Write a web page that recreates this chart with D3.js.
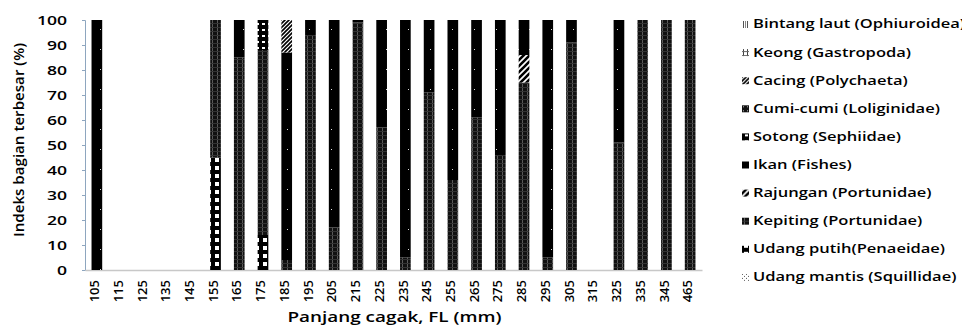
<!DOCTYPE html>
<html>
<head>
<meta charset="utf-8">
<script src="https://d3js.org/d3.v7.min.js"></script>
<style>
  body { margin: 0; background: #fff; }
  text { font-family: "Open Sans", sans-serif; fill: #000; font-weight: 600; }
</style>
</head>
<body>
<svg id="chart" width="962" height="327"></svg>
<script>
// category labels (fork length, mm)
const categories = ['105','115','125','135','145','155','165','175','185','195','205','215','225',
  '235','245','255','265','275','285','295','305','315','325','335','345','465'];

// series, bottom of stack first (values in %)
const udangMantis = [0,0,0,0,0,0,0,0,0,0,0,0,0,0,0,0,0,0,0,0,0,0,0,0,0,0];
const udangPutih  = [0,0,0,0,0,45,0,14,0,0,0,0,0,0,0,0,0,0,0,0,0,0,0,0,0,0];
const kepiting    = [0,0,0,0,0,55,85,74,4,94,17,99,57,5,71,36,61,46,75,5,91,0,51,100,100,100];
const rajungan    = [0,0,0,0,0,0,0,0,0,0,0,0,0,0,0,0,0,0,11,0,0,0,0,0,0,0];
const ikan        = [100,0,0,0,0,0,15,0,83,6,83,1,43,95,29,64,39,54,14,95,9,0,49,0,0,0];
const sotong      = [0,0,0,0,0,0,0,12,0,0,0,0,0,0,0,0,0,0,0,0,0,0,0,0,0,0];
const cumiCumi    = [0,0,0,0,0,0,0,0,0,0,0,0,0,0,0,0,0,0,0,0,0,0,0,0,0,0];
const cacing      = [0,0,0,0,0,0,0,0,13,0,0,0,0,0,0,0,0,0,0,0,0,0,0,0,0,0];
const keong       = [0,0,0,0,0,0,0,0,0,0,0,0,0,0,0,0,0,0,0,0,0,0,0,0,0,0];
const bintangLaut = [0,0,0,0,0,0,0,0,0,0,0,0,0,0,0,0,0,0,0,0,0,0,0,0,0,0];

const yTicks = [0,10,20,30,40,50,60,70,80,90,100];

const series = [
  { key: 'mantis',  name: 'Udang mantis (Squillidae)', values: udangMantis },
  { key: 'putih',   name: 'Udang putih(Penaeidae)',    values: udangPutih },
  { key: 'kepiting',name: 'Kepiting (Portunidae)',     values: kepiting },
  { key: 'rajungan',name: 'Rajungan (Portunidae)',     values: rajungan },
  { key: 'ikan',    name: 'Ikan (Fishes)',             values: ikan },
  { key: 'sotong',  name: 'Sotong (Sephiidae)',        values: sotong },
  { key: 'cumi',    name: 'Cumi-cumi (Loliginidae)',   values: cumiCumi },
  { key: 'cacing',  name: 'Cacing (Polychaeta)',       values: cacing },
  { key: 'keong',   name: 'Keong (Gastropoda)',        values: keong },
  { key: 'bintang', name: 'Bintang laut (Ophiuroidea)',values: bintangLaut },
];

const svg = d3.select('#chart');
const margin = { top: 20, left: 85, right: 260, bottom: 57 };
const width = 962 - margin.left - margin.right;
const height = 327 - margin.top - margin.bottom;

// the original's lettering is wide, so stretch texts sideways
function widen(sel, f) {
  sel.each(function () {
    const len = this.getComputedTextLength();
    d3.select(this).attr('textLength', len * f).attr('lengthAdjust', 'spacingAndGlyphs');
  });
}

// patterns (black & white fills like the original)
const defs = svg.append('defs');
function pat(id, w, h, draw) {
  const p = defs.append('pattern').attr('id', id)
    .attr('patternUnits', 'userSpaceOnUse').attr('width', w).attr('height', h);
  draw(p);
}
pat('p-kepiting', 5, 4, p => {
  p.append('rect').attr('width', 5).attr('height', 4).attr('fill', '#111');
  p.append('rect').attr('x', 2).attr('width', 1).attr('height', 4).attr('fill', '#5a5a5a');
  p.append('rect').attr('y', 3).attr('width', 5).attr('height', 1).attr('fill', '#333');
});
pat('p-ikan', 11, 20, p => {
  p.append('rect').attr('width', 11).attr('height', 20).attr('fill', '#000');
  p.append('rect').attr('x', 4).attr('y', 9).attr('width', 1).attr('height', 1).attr('fill', '#ddd');
});
pat('p-putih', 8, 8, p => {
  p.append('rect').attr('width', 8).attr('height', 8).attr('fill', '#000');
  p.append('rect').attr('x', 2).attr('y', 2).attr('width', 4).attr('height', 4).attr('fill', '#fff');
});
pat('p-mantis', 4, 4, p => {
  p.append('rect').attr('width', 4).attr('height', 4).attr('fill', '#fff');
  p.append('rect').attr('width', 1).attr('height', 1).attr('fill', '#555');
  p.append('rect').attr('x', 2).attr('y', 2).attr('width', 1).attr('height', 1).attr('fill', '#555');
});
pat('p-rajungan', 6, 6, p => {
  p.append('rect').attr('width', 6).attr('height', 6).attr('fill', '#fff');
  p.append('path').attr('d', 'M0,6 L6,0 M-2,2 L2,-2 M4,8 L8,4')
    .attr('stroke', '#000').attr('stroke-width', 2.6);
});
pat('p-sotong', 6, 6, p => {
  p.append('rect').attr('width', 6).attr('height', 6).attr('fill', '#000');
  p.append('rect').attr('x', 3).attr('y', 3).attr('width', 3).attr('height', 2).attr('fill', '#fff');
});
pat('p-cumi', 4, 4, p => {
  p.append('rect').attr('width', 4).attr('height', 4).attr('fill', '#111');
  p.append('rect').attr('x', 1).attr('y', 1).attr('width', 1).attr('height', 1).attr('fill', '#bbb');
});
pat('p-cacing', 4, 4, p => {
  p.append('rect').attr('width', 4).attr('height', 4).attr('fill', '#fff');
  p.append('path').attr('d', 'M0,4 L4,0 M-1,1 L1,-1 M3,5 L5,3')
    .attr('stroke', '#000').attr('stroke-width', 1.6);
});
pat('p-keong', 4, 4, p => {
  p.append('rect').attr('width', 4).attr('height', 4).attr('fill', '#fff');
  p.append('rect').attr('x', 1).attr('width', 1).attr('height', 4).attr('fill', '#444');
  p.append('rect').attr('y', 2).attr('width', 4).attr('height', 1).attr('fill', '#666');
});
pat('p-bintang', 4, 3, p => {
  p.append('rect').attr('width', 4).attr('height', 3).attr('fill', '#fff');
  p.append('rect').attr('x', 1).attr('width', 1).attr('height', 3).attr('fill', '#555');
  p.append('rect').attr('x', 3).attr('width', 1).attr('height', 3).attr('fill', '#888');
});

const g = svg.append('g').attr('transform', `translate(${margin.left},${margin.top})`);

const x = d3.scaleBand().domain(categories).range([0, width]).paddingInner(0.55).paddingOuter(0.275);
const y = d3.scaleLinear().domain([0, 100]).range([height, 0]);

// stack
const table = categories.map((c, i) => {
  const row = { cat: c };
  series.forEach(s => { row[s.key] = s.values[i]; });
  return row;
});
const stacked = d3.stack().keys(series.map(s => s.key))(table);

// y axis
const yAxis = g.append('g').call(d3.axisLeft(y).tickValues(yTicks).tickSize(3).tickPadding(15));
yAxis.select('.domain').attr('stroke', '#8ea6bf');
yAxis.selectAll('.tick line').attr('stroke', '#8ea6bf');
yAxis.selectAll('text').style('font-size', '13px').attr('fill', '#000')
  .call(widen, 1.35);

// x axis
const xAxis = g.append('g').attr('transform', `translate(0,${height})`)
  .call(d3.axisBottom(x).tickSize(0).tickPadding(6));
xAxis.select('.domain').attr('stroke', '#c8c8c8').attr('stroke-width', 1.5);
xAxis.selectAll('text')
  .attr('transform', 'rotate(-90)')
  .attr('text-anchor', 'end')
  .attr('dy', '-0.1em')
  .attr('y', 0)
  .attr('x', -10)
  .style('font-size', '13px').attr('fill', '#000')
  .attr('dominant-baseline', 'middle');

// bars
g.append('g').selectAll('g')
  .data(stacked)
  .join('g')
  .attr('fill', d => `url(#p-${d.key})`)
  .selectAll('rect')
  .data(d => d.filter(v => v[1] - v[0] > 0))
  .join('rect')
  .attr('x', d => x(d.data.cat))
  .attr('y', d => y(d[1]))
  .attr('width', x.bandwidth())
  .attr('height', d => y(d[0]) - y(d[1]));

// axis titles
svg.append('text')
  .attr('transform', `translate(20,${margin.top + height / 2 - 5}) rotate(-90)`)
  .attr('text-anchor', 'middle')
  .attr('dominant-baseline', 'middle')
  .style('font-size', '14px')
  .text('Indeks bagian terbesar (%)')
  .call(widen, 1.08);

svg.append('text')
  .attr('x', margin.left + width / 2 + 1)
  .attr('y', 322)
  .attr('text-anchor', 'middle')
  .style('font-size', '14px')
  .text('Panjang cagak, FL (mm)')
  .call(widen, 1.35);

// legend, top entry = last series
const legend = svg.append('g').attr('transform', 'translate(742,25)');
const legendItems = legend.selectAll('g')
  .data(series.slice().reverse())
  .join('g')
  .attr('transform', (d, i) => `translate(0,${i * 28.1})`);
legendItems.append('rect')
  .attr('x', 0).attr('y', -4).attr('width', 7).attr('height', 7)
  .attr('fill', d => `url(#p-${d.key})`);
legendItems.append('text')
  .attr('x', 11).attr('y', 0)
  .attr('dominant-baseline', 'middle')
  .style('font-size', '13px')
  .text(d => d.name)
  .call(widen, 1.27);
</script>
</body>
</html>
